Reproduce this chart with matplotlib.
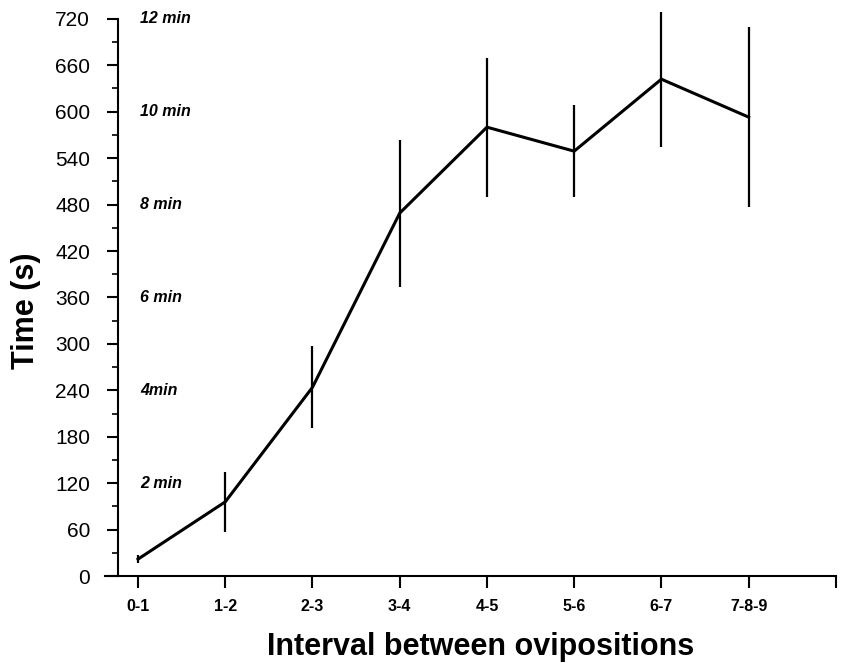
import matplotlib
matplotlib.use("Agg")
import matplotlib.pyplot as plt
from matplotlib.ticker import MultipleLocator

plt.rcParams['font.family'] = ['Liberation Sans', 'DejaVu Sans']

# data
intervals = ["0-1", "1-2", "2-3", "3-4", "4-5", "5-6", "6-7", "7-8-9"]
mean_time = [22, 96, 244, 469, 580, 549, 642, 593]
err_time = [5, 39, 53, 95, 90, 59, 87, 116]
min_labels = ["2 min", "4min", "6 min", "8 min", "10 min", "12 min"]
min_values = [120, 240, 360, 480, 600, 720]

fig = plt.figure(figsize=(8.46, 6.63), dpi=100)
ax = fig.add_axes([0.124, 0.131, 0.864, 0.864])

xs = list(range(len(intervals)))
ax.plot(xs, mean_time, color="black", lw=2.2)
ax.errorbar(xs, mean_time, yerr=err_time, fmt="none", ecolor="black",
            elinewidth=1.6, capsize=0)

# minute markers next to the axis
for lab, v in zip(min_labels, min_values):
    ax.text(0.02, v, lab, fontsize=11.5, fontweight="bold", fontstyle="italic",
            ha="left", va="center")

ax.set_xlim(-0.38, 8.0)
ax.set_ylim(0, 740)

ax.spines["top"].set_visible(False)
ax.spines["right"].set_visible(False)
ax.spines["left"].set_position(("data", -0.23))
ax.spines["left"].set_bounds(0, 720)
for s in ["left", "bottom"]:
    ax.spines[s].set_linewidth(1.5)

ax.set_yticks(range(0, 721, 60))
ax.yaxis.set_minor_locator(MultipleLocator(30))
ax.set_xticks(list(range(9)))
ax.set_xticklabels(intervals + [""])

ax.tick_params(axis="y", which="major", length=8, width=1.5, pad=12, labelsize=15)
ax.tick_params(axis="y", which="minor", length=4.5, width=1.2)
ax.tick_params(axis="x", which="major", length=8.5, width=1.5, pad=8, labelsize=11.5)
for t in ax.get_xticklabels():
    t.set_fontweight("bold")

ax.set_ylabel("Time (s)", fontsize=22, fontweight="bold")
ax.yaxis.set_label_coords(-0.087, 0.463)
ax.set_xlabel("Interval between ovipositions", fontsize=22, fontweight="bold", labelpad=13)
ax.xaxis.label.set_x(0.514)

fig.savefig("out.png", dpi=100)
